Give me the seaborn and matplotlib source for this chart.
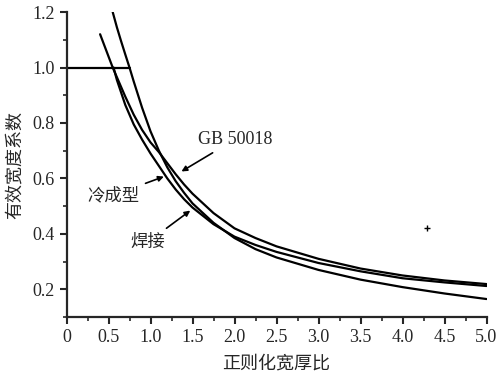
import pandas as pd
import numpy as np
import matplotlib
matplotlib.use("Agg")
import matplotlib.pyplot as plt
from matplotlib.ticker import MultipleLocator
import seaborn as sns

# --- Data ---
cold_x = [0.55, 0.6, 0.65, 0.7, 0.75, 0.8, 0.9, 1.0, 1.1, 1.2, 1.3, 1.4, 1.5,
          1.75, 2.0, 2.25, 2.5, 3.0, 3.5, 4.0, 4.5, 5.0]
cold_y = [1.20, 1.145, 1.095, 1.047, 1.00, 0.95, 0.855, 0.77, 0.70, 0.64, 0.59, 0.548, 0.51,
          0.44, 0.385, 0.345, 0.315, 0.27, 0.235, 0.208, 0.185, 0.165]

gb_x = [0.40, 0.5, 0.55, 0.6, 0.7, 0.8, 0.9, 1.0, 1.1, 1.2, 1.3, 1.4, 1.5,
        1.75, 2.0, 2.25, 2.5, 3.0, 3.5, 4.0, 4.5, 5.0]
gb_y = [1.12, 1.04, 1.00, 0.965, 0.895, 0.83, 0.775, 0.73, 0.695, 0.655, 0.615, 0.578, 0.545,
        0.475, 0.42, 0.385, 0.355, 0.31, 0.275, 0.25, 0.232, 0.219]

weld_x = [0.56, 0.6, 0.7, 0.8, 0.9, 1.0, 1.1, 1.2, 1.3, 1.4, 1.5,
          1.75, 2.0, 2.25, 2.5, 3.0, 3.5, 4.0, 4.5, 5.0]
weld_y = [1.00, 0.955, 0.865, 0.795, 0.74, 0.69, 0.645, 0.60, 0.56, 0.525, 0.495,
          0.435, 0.39, 0.36, 0.335, 0.295, 0.265, 0.24, 0.225, 0.212]

cap_x = [0.0, 0.75]
cap_y = [1.0, 1.0]

x_ticks = [0, 0.5, 1.0, 1.5, 2.0, 2.5, 3.0, 3.5, 4.0, 4.5, 5.0]
x_tick_labels = ["0", "0.5", "1.0", "1.5", "2.0", "2.5", "3.0", "3.5", "4.0", "4.5", "5.0"]
y_ticks = [0.2, 0.4, 0.6, 0.8, 1.0, 1.2]
y_tick_labels = ["0.2", "0.4", "0.6", "0.8", "1.0", "1.2"]

sns.set_style("ticks")
plt.rcParams['font.family'] = ['Liberation Serif', 'Noto Sans CJK SC', 'DejaVu Sans']

fig = plt.figure(figsize=(5.0, 3.77), dpi=100)
ax = fig.add_axes([0.133, 0.159, 0.840, 0.809])

lw = 1.6
for xs, ys in [(cold_x, cold_y), (gb_x, gb_y), (weld_x, weld_y), (cap_x, cap_y)]:
    df = pd.DataFrame({"x": xs, "y": ys})
    sns.lineplot(data=df, x="x", y="y", ax=ax, color="black", linewidth=lw,
                 sort=False, estimator=None)

# small stray mark in the original
ax.plot([4.29], [0.42], marker="+", color="black", markersize=4, markeredgewidth=1)

ax.set_xlim(0, 5.0)
ax.set_ylim(0.1, 1.2)
ax.set_xticks(x_ticks)
ax.set_xticklabels(x_tick_labels)
ax.set_yticks(y_ticks)
ax.set_yticklabels(y_tick_labels)
ax.xaxis.set_minor_locator(MultipleLocator(0.25))
ax.yaxis.set_minor_locator(MultipleLocator(0.1))
ax.tick_params(which="major", direction="out", length=5, width=1.5, labelsize=13)
ax.tick_params(which="minor", direction="out", length=3, width=1.2)
for s in ["top", "right"]:
    ax.spines[s].set_visible(False)
for s in ["left", "bottom"]:
    ax.spines[s].set_linewidth(1.6)

cjk = ['Noto Sans CJK SC', 'DejaVu Sans']
ax.set_xlabel("正则化宽厚比", fontsize=13, family=cjk, labelpad=6)
ax.set_ylabel("有效宽度系数", fontsize=13, family=cjk, labelpad=6)

arrow = dict(arrowstyle="-|>", color="black", lw=1.2, mutation_scale=8)
ax.annotate("GB 50018", xy=(1.34, 0.62), xytext=(1.56, 0.74), fontsize=13,
            va="center", ha="left", arrowprops=arrow)
ax.annotate("冷成型", xy=(1.19, 0.61), xytext=(0.25, 0.54), fontsize=12.5,
            va="center", ha="left", family=cjk, arrowprops=arrow)
ax.annotate("焊接", xy=(1.50, 0.49), xytext=(0.76, 0.37), fontsize=12.5,
            va="center", ha="left", family=cjk, arrowprops=arrow)

fig.savefig("out.png", dpi=100)
